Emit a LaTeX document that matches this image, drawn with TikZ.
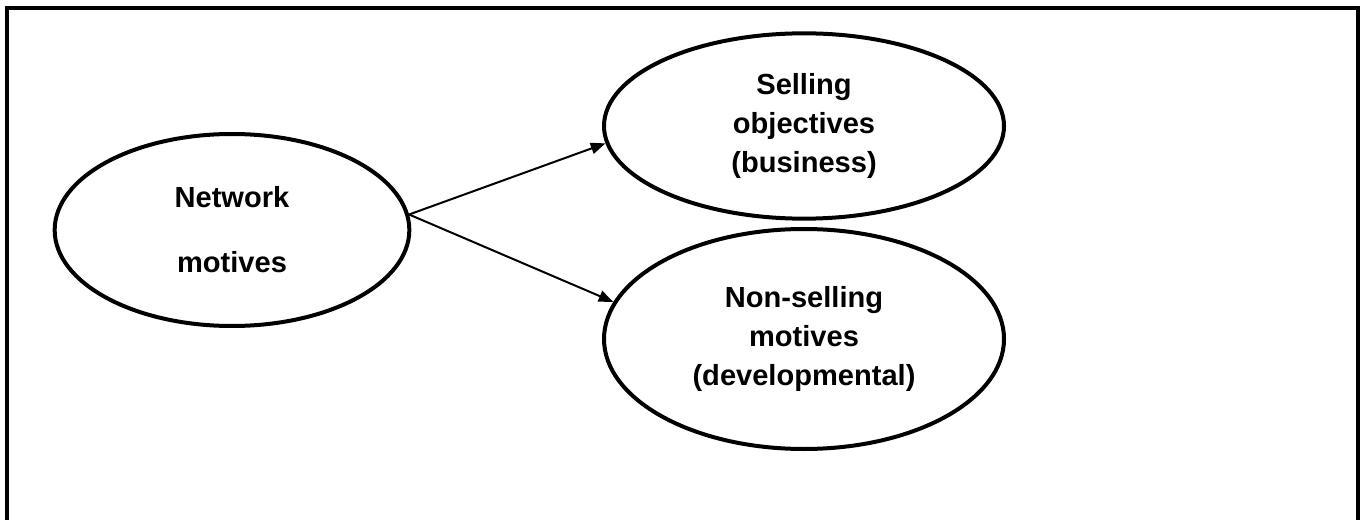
\documentclass[tikz,border=0pt]{standalone}
\usepackage{fontspec}
\setmainfont{Liberation Sans}
\usetikzlibrary{arrows.meta,shapes.geometric}

\begin{document}
\begin{tikzpicture}[
        x=0.75pt, y=-0.75pt,
        oval/.style={draw, ellipse, line width=3pt, inner sep=0pt, align=center,
            font=\fontsize{21.8}{29.3}\selectfont\bfseries},
        arrow/.style={-{Triangle[length=11pt, width=8.5pt]}, line width=1.5pt},
        frame/.style={draw, line width=3pt}
    ]
    \clip (0,0) rectangle (1362,520);

    % Rahmen
    \draw[frame] (7,8) rectangle (1358,540);

    % Motive
    \node[oval, minimum width=266pt, minimum height=144pt] (net) at (232,230) {Network\\[19.5pt]motives};
    \node[oval, minimum width=300pt, minimum height=139pt] (sell) at (804,126) {Selling\\objectives\\(business)};
    \node[oval, minimum width=300pt, minimum height=165pt] (dev) at (804,339) {Non-selling\\motives\\(developmental)};

    % Pfeile
    \draw[arrow] (net.5) -- (sell.185);
    \draw[arrow] (net.5) -- (dev.169);

\end{tikzpicture}
\end{document}
